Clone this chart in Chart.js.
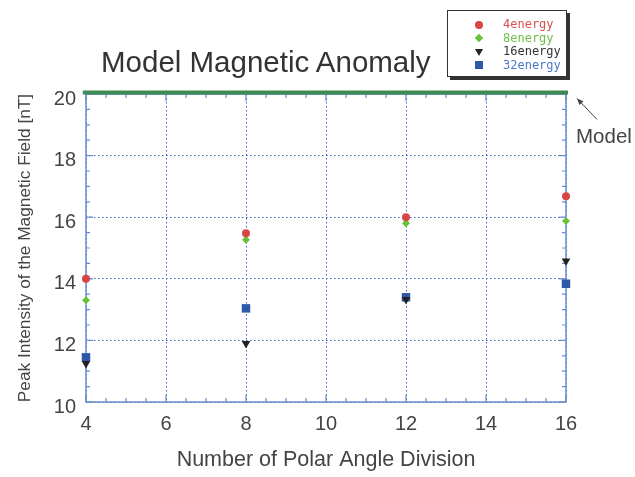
<!DOCTYPE html>
<html>
<head>
<meta charset="utf-8">
<script src="https://cdn.jsdelivr.net/npm/chart.js@4"></script>
<style>
  html, body { margin: 0; padding: 0; background: #fff; }
  #wrap { position: relative; width: 635px; height: 477px; font-family: "Liberation Sans", Arial, sans-serif; }
  #c { position: absolute; left: 0; top: 0; }
  #title { position: absolute; left: 101px; top: 45px; font-size: 29.5px; line-height: 34px; color: #333; white-space: nowrap; }
  #model { position: absolute; left: 576px; top: 124px; font-size: 20.5px; color: #444; }
  #legend { position: absolute; left: 447px; top: 10px; width: 118px; height: 65px; border: 1px solid #333;
            background: #fff; box-shadow: 3px 3px 0 #333; font-family: "DejaVu Sans Mono", monospace; font-size: 12px; }
  #legend .t { position: absolute; left: 55px; line-height: 13px; }
  #legend .m { position: absolute; }
</style>
</head>
<body>
<div id="wrap">
  <canvas id="c" width="635" height="477"></canvas>
  <div id="title">Model Magnetic Anomaly</div>
  <div id="model">Model</div>
  <div id="legend"></div>
</div>
<script>
// polar angle divisions (x)
const divisions = [4, 8, 12, 16];
// peak intensity [nT] per energy setting
const energy4 = [14.0, 15.48, 16.0, 16.68];
const energy8 = [13.3, 15.27, 15.8, 15.88];
const energy16 = [11.25, 11.9, 13.33, 14.58];
const energy32 = [11.45, 13.04, 13.4, 13.84];
const modelValue = 20.05;
const modelRange = [3.92, 16.05];

const xTicks = [4, 6, 8, 10, 12, 14, 16];
const yTicks = [10, 12, 14, 16, 18, 20];

const SERIES = [
  { label: "4energy", values: energy4, color: "#d84545", text: "#d85050", style: "circle", radius: 4 },
  { label: "8energy", values: energy8, color: "#66c23a", text: "#6cbf48", style: "rectRot", radius: 4 },
  { label: "16energy", values: energy16, color: "#222222", text: "#333333", style: "triangle", radius: 5, rotation: 180 },
  { label: "32energy", values: energy32, color: "#2d59a8", text: "#4a78c8", style: "rect", radius: 6 },
];

const AXIS = "#6a8ccc";
const GRID = "#3f63c4";

// css marker shapes for the html legend
function legendMarker(s, top) {
  const cy = top + 6.5, cx = 31;
  if (s.style === "circle")
    return `<div class="m" style="left:${cx - 4}px;top:${cy - 4}px;width:8px;height:8px;border-radius:50%;background:${s.color}"></div>`;
  if (s.style === "rectRot")
    return `<div class="m" style="left:${cx - 3}px;top:${cy - 3}px;width:6px;height:6px;transform:rotate(45deg);background:${s.color}"></div>`;
  if (s.style === "triangle")
    return `<div class="m" style="left:${cx - 4}px;top:${cy - 3}px;width:0;height:0;border-left:4px solid transparent;border-right:4px solid transparent;border-top:7px solid ${s.color}"></div>`;
  return `<div class="m" style="left:${cx - 4}px;top:${cy - 4}px;width:8px;height:8px;background:${s.color}"></div>`;
}

const legend = document.getElementById("legend");
SERIES.forEach((s, i) => {
  const top = 7 + i * 13.5;
  legend.insertAdjacentHTML("beforeend", legendMarker(s, top) + `<div class="t" style="top:${top}px;color:${s.text}">${s.label}</div>`);
});

// inward ticks + frame drawn from scales
const framePlugin = {
  id: "frame",
  beforeDatasetsDraw(chart) {
    const { ctx, chartArea: a, scales } = chart;
    ctx.save();
    ctx.strokeStyle = AXIS;
    ctx.lineWidth = 1.5;
    ctx.strokeRect(a.left, a.top, a.right - a.left, a.bottom - a.top);
    ctx.lineWidth = 1.2;
    for (let v = 4; v <= 16; v += 0.5) {
      const x = scales.x.getPixelForValue(v);
      const len = v % 2 === 0 ? 7 : 4;
      ctx.beginPath();
      ctx.moveTo(x, a.bottom); ctx.lineTo(x, a.bottom - len);
      ctx.moveTo(x, a.top); ctx.lineTo(x, a.top + len);
      ctx.stroke();
    }
    for (let v = 10; v <= 20; v += 0.5) {
      const y = scales.y.getPixelForValue(v);
      const len = v % 2 === 0 ? 7 : 4;
      ctx.beginPath();
      ctx.moveTo(a.left, y); ctx.lineTo(a.left + len, y);
      ctx.moveTo(a.right, y); ctx.lineTo(a.right - len, y);
      ctx.stroke();
    }
    ctx.restore();
  },
  afterDraw(chart) {
    const { ctx, chartArea: a, scales } = chart;
    // arrow pointing at the model line
    const tipX = a.right + 11, tipY = scales.y.getPixelForValue(modelValue) + 6;
    const tailX = tipX + 20, tailY = tipY + 21;
    ctx.save();
    ctx.strokeStyle = "#444"; ctx.fillStyle = "#444"; ctx.lineWidth = 1;
    ctx.beginPath(); ctx.moveTo(tailX, tailY); ctx.lineTo(tipX, tipY); ctx.stroke();
    const ang = Math.atan2(tipY - tailY, tipX - tailX);
    ctx.beginPath();
    ctx.moveTo(tipX, tipY);
    ctx.lineTo(tipX - 7 * Math.cos(ang - 0.4), tipY - 7 * Math.sin(ang - 0.4));
    ctx.lineTo(tipX - 7 * Math.cos(ang + 0.4), tipY - 7 * Math.sin(ang + 0.4));
    ctx.closePath(); ctx.fill();
    ctx.restore();
  },
};

const datasets = SERIES.map((s) => ({
  label: s.label,
  data: divisions.map((d, i) => ({ x: d, y: s.values[i] })),
  pointStyle: s.style,
  pointRadius: s.radius,
  pointRotation: s.rotation || 0,
  backgroundColor: s.color,
  borderColor: s.color,
  borderWidth: 0,
  showLine: false,
  clip: false,
}));

datasets.push({
  type: "line",
  label: "Model",
  data: modelRange.map((x) => ({ x, y: modelValue })),
  borderColor: "#3f8a52",
  borderWidth: 4,
  pointRadius: 0,
  clip: false,
});

new Chart(document.getElementById("c"), {
  type: "scatter",
  data: { datasets },
  plugins: [framePlugin],
  options: {
    responsive: false,
    animation: false,
    layout: { padding: { left: 0, right: 69, top: 94, bottom: 0 } },
    plugins: { legend: { display: false }, tooltip: { enabled: false } },
    scales: {
      x: {
        type: "linear", min: 4, max: 16,
        afterBuildTicks: (s) => { s.ticks = xTicks.map((v) => ({ value: v })); },
        afterFit: (s) => { s.height = 75; },
        grid: { color: GRID, lineWidth: 1, drawTicks: false },
        border: { display: false, dash: [1.5, 2.5] },
        ticks: { color: "#444", font: { size: 20, family: "Liberation Sans" }, padding: 10, maxRotation: 0 },
        title: { display: true, text: "Number of Polar Angle Division", color: "#444",
                 font: { size: 21.5, family: "Liberation Sans" }, padding: { top: 9 } },
      },
      y: {
        type: "linear", min: 10, max: 20,
        afterBuildTicks: (s) => { s.ticks = yTicks.map((v) => ({ value: v })); },
        afterFit: (s) => { s.width = 86; },
        grid: { color: GRID, lineWidth: 1, drawTicks: false },
        border: { display: false, dash: [1.5, 2.5] },
        ticks: { color: "#444", font: { size: 20, family: "Liberation Sans" }, padding: 10, labelOffset: 5 },
        title: { display: true, text: "Peak Intensity of the Magnetic Field [nT]", color: "#444",
                 font: { size: 17.3, family: "Liberation Sans" }, padding: { top: 15, bottom: 0 } },
      },
    },
  },
});
</script>
</body>
</html>
